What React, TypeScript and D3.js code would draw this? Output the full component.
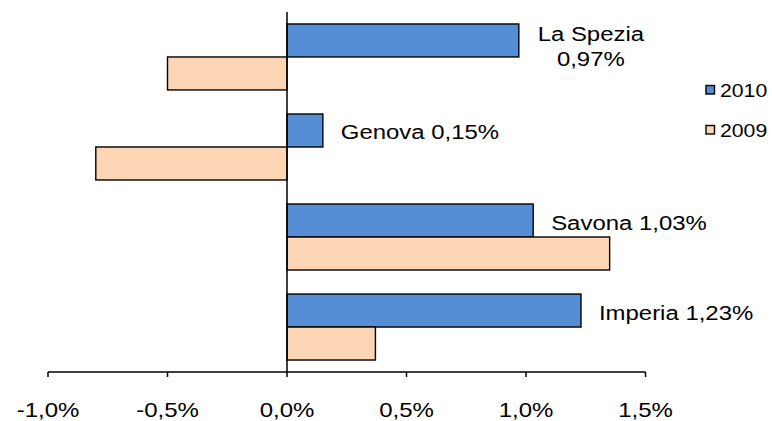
import React from "react";
import * as d3 from "d3";

// provinces, top to bottom
const categories = ["La Spezia", "Genova", "Savona", "Imperia"];
const series = ["2010", "2009"];
// % change
const values2010 = [0.97, 0.15, 1.03, 1.23];
const values2009 = [-0.5, -0.8, 1.35, 0.37];
const tickValues = [-1.0, -0.5, 0.0, 0.5, 1.0, 1.5];
const wrapped = ["La Spezia"];

const colors: Record<string, string> = { "2010": "#558ED5", "2009": "#FCD5B5" };

const W = 772;
const H = 421;
const FONT = "'Liberation Sans', Arial, sans-serif";

const it = d3.formatLocale({
  decimal: ",",
  thousands: ".",
  grouping: [3],
  currency: ["", " €"],
  minus: "-",
});
const fmtTick = it.format(".1%");
const fmtVal = it.format(".2%");

// the source picture is stretched a bit sideways, so text is too
function SText(props: {
  x: number;
  y: number;
  size: number;
  sx: number;
  anchor?: string;
  children: React.ReactNode;
}) {
  return (
    <text
      transform={`translate(${props.x},${props.y}) scale(${props.sx},1)`}
      fontSize={props.size}
      fontFamily={FONT}
      textAnchor={props.anchor || "start"}
      fill="#000"
    >
      {props.children}
    </text>
  );
}

export default function App() {
  const x = d3.scaleLinear().domain([-1, 1.5]).range([48, 645.5]);
  const y = d3
    .scaleBand<string>()
    .domain(categories)
    .range([12, 372])
    .paddingInner(0.267)
    .paddingOuter(0.133);
  const ySub = d3.scaleBand<string>().domain(series).range([0, y.bandwidth()]);

  const rows = categories.map((c, i) => ({
    name: c,
    "2010": values2010[i],
    "2009": values2009[i],
  }));

  const axisY = 372;

  return (
    <svg
      width={W}
      height={H}
      style={{ position: "absolute", left: 0, top: 0, background: "#fff" }}
    >
      {rows.map((r) => (
        <g key={r.name} transform={`translate(0,${y(r.name)})`}>
          {series.map((s) => {
            const v = (r as any)[s] as number;
            return (
              <rect
                key={s}
                x={Math.min(x(0), x(v))}
                y={ySub(s)}
                width={Math.abs(x(v) - x(0))}
                height={ySub.bandwidth()}
                fill={colors[s]}
                stroke="#000"
                strokeWidth={1.4}
              />
            );
          })}
        </g>
      ))}

      {/* data labels next to the 2010 bars */}
      {rows.map((r) => {
        const yc = (y(r.name) as number) + (ySub("2010") as number) + ySub.bandwidth() / 2;
        const label = fmtVal(r["2010"] / 100);
        if (wrapped.includes(r.name)) {
          return (
            <g key={r.name}>
              <SText x={x(r["2010"]) + 72} y={yc + 1} size={21} sx={1.14} anchor="middle">
                {r.name}
              </SText>
              <SText x={x(r["2010"]) + 72} y={yc + 26} size={21} sx={1.14} anchor="middle">
                {label}
              </SText>
            </g>
          );
        }
        return (
          <SText key={r.name} x={x(r["2010"]) + 18} y={yc + 9} size={21} sx={1.14}>
            {r.name} {label}
          </SText>
        );
      })}

      {/* zero line */}
      <line x1={x(0)} x2={x(0)} y1={12} y2={axisY} stroke="#000" strokeWidth={1.5} />

      {/* x axis */}
      <line x1={x(-1)} x2={x(1.5)} y1={axisY} y2={axisY} stroke="#000" strokeWidth={1.5} />
      {tickValues.map((t) => (
        <g key={t}>
          <line x1={x(t)} x2={x(t)} y1={axisY} y2={axisY + 5} stroke="#000" strokeWidth={1.5} />
          <SText x={x(t)} y={416.5} size={20} sx={1.2} anchor="middle">
            {fmtTick(t / 100)}
          </SText>
        </g>
      ))}

      {/* legend */}
      {series.map((s, i) => (
        <g key={s} transform={`translate(706,${85.5 + i * 40})`}>
          <rect width={8.5} height={8.5} fill={colors[s]} stroke="#000" strokeWidth={1.4} />
          <SText x={14} y={11} size={18} sx={1.18}>
            {s}
          </SText>
        </g>
      ))}
    </svg>
  );
}
